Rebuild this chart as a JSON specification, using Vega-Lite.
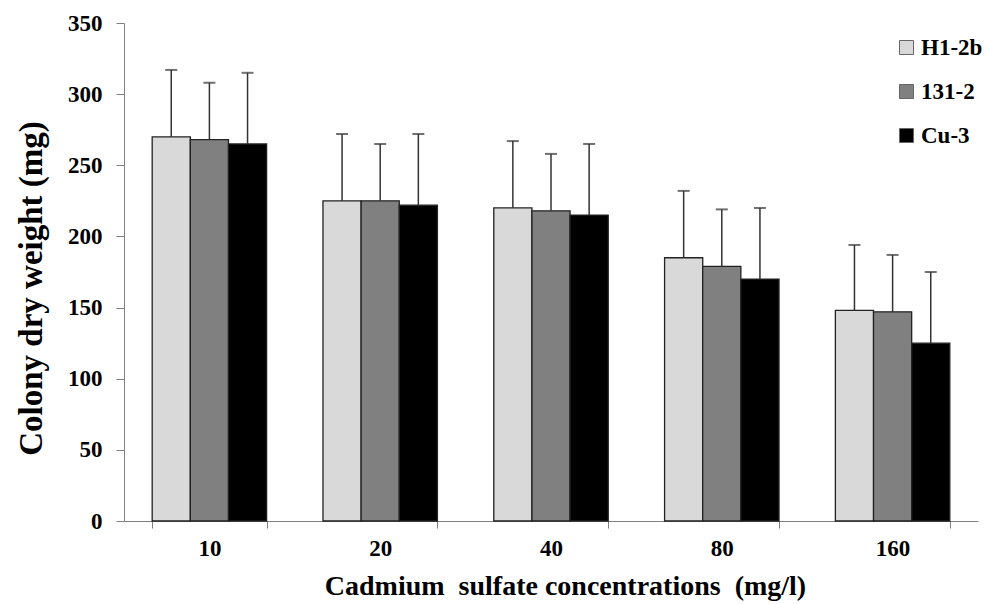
{
  "$schema": "https://vega.github.io/schema/vega-lite/v6.json",
  "width": 854,
  "height": 498,
  "autosize": "none",
  "padding": {"left": 124, "top": 23, "right": 8, "bottom": 83},
  "background": "white",
  "config": {
    "view": {"stroke": null},
    "font": "Liberation Serif",
    "style": {"guide-label": {"font": "Liberation Serif"}, "guide-title": {"font": "Liberation Serif"}},
    "axis": {"labelFont": "Liberation Serif", "titleFont": "Liberation Serif", "labelFontWeight": "bold", "titleFontWeight": "bold", "labelColor": "#000", "titleColor": "#000", "domainColor": "#808080", "tickColor": "#808080", "grid": false},
    "legend": {"labelFont": "Liberation Serif"}
  },
  "data": {
    "values": [
      {"conc": "10", "strain": "H1-2b", "value": 270, "upper": 317},
      {"conc": "10", "strain": "131-2", "value": 268, "upper": 308},
      {"conc": "10", "strain": "Cu-3", "value": 265, "upper": 315},
      {"conc": "20", "strain": "H1-2b", "value": 225, "upper": 272},
      {"conc": "20", "strain": "131-2", "value": 225, "upper": 265},
      {"conc": "20", "strain": "Cu-3", "value": 222, "upper": 272},
      {"conc": "40", "strain": "H1-2b", "value": 220, "upper": 267},
      {"conc": "40", "strain": "131-2", "value": 218, "upper": 258},
      {"conc": "40", "strain": "Cu-3", "value": 215, "upper": 265},
      {"conc": "80", "strain": "H1-2b", "value": 185, "upper": 232},
      {"conc": "80", "strain": "131-2", "value": 179, "upper": 219},
      {"conc": "80", "strain": "Cu-3", "value": 170, "upper": 220},
      {"conc": "160", "strain": "H1-2b", "value": 148, "upper": 194},
      {"conc": "160", "strain": "131-2", "value": 147, "upper": 187},
      {"conc": "160", "strain": "Cu-3", "value": 125, "upper": 175}
    ]
  },
  "encoding": {
    "x": {
      "field": "conc", "type": "nominal", "sort": ["10", "20", "40", "80", "160"],
      "scale": {"paddingInner": 0.33, "paddingOuter": 0.165},
      "axis": {"title": "Cadmium\u00a0 sulfate concentrations\u00a0 (mg/l)", "labelAngle": 0, "labelFont": "Liberation Serif", "labelFontSize": 23, "titleFontSize": 28, "tickBand": "extent", "tickSize": 7, "labelPadding": 9, "titlePadding": 12, "titleX": 441}
    },
    "xOffset": {"field": "strain", "type": "nominal", "sort": ["H1-2b", "131-2", "Cu-3"]}
  },
  "layer": [
    {
      "mark": {"type": "bar", "stroke": "#222", "strokeWidth": 1.3},
      "encoding": {
        "y": {"field": "value", "type": "quantitative", "scale": {"domain": [0, 350]},
          "axis": {"title": "Colony dry weight (mg)", "values": [0, 50, 100, 150, 200, 250, 300, 350], "labelFont": "Liberation Serif", "labelFontSize": 23, "titleFontSize": 33, "tickSize": 8, "labelPadding": 14, "titlePadding": 19, "titleY": 265}},
        "fill": {"field": "strain", "type": "nominal", "sort": ["H1-2b", "131-2", "Cu-3"],
          "scale": {"domain": ["H1-2b", "131-2", "Cu-3"], "range": ["#d9d9d9", "#808080", "#000000"]},
          "legend": {"title": null, "orient": "none", "legendX": 771, "legendY": 13, "symbolType": "square", "symbolSize": 196, "symbolStrokeColor": "#666", "symbolStrokeWidth": 1, "labelFont": "Liberation Serif", "labelFontWeight": "bold", "labelFontSize": 23, "labelColor": "#000", "rowPadding": 20, "labelOffset": 3, "labelLimit": 200}
        }
      }
    },
    {
      "mark": {"type": "rule", "color": "#333", "strokeWidth": 1.5},
      "encoding": {"y": {"field": "value", "type": "quantitative"}, "y2": {"field": "upper"}}
    },
    {
      "mark": {"type": "tick", "color": "#333", "thickness": 2, "size": 12},
      "encoding": {"y": {"field": "upper", "type": "quantitative"}}
    }
  ]
}
